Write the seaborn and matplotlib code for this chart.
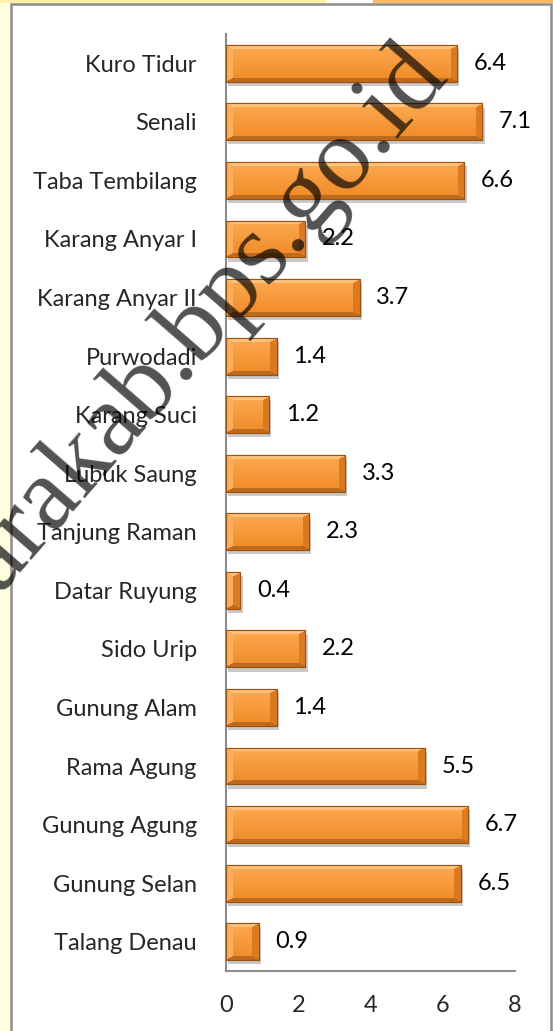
import numpy as np
import pandas as pd
import matplotlib
matplotlib.use("Agg")
import matplotlib.pyplot as plt
import matplotlib.patheffects as pe
from matplotlib.patches import Rectangle
import seaborn as sns

# data
desa = ['Kuro Tidur', 'Senali', 'Taba Tembilang', 'Karang Anyar I', 'Karang Anyar II',
        'Purwodadi', 'Karang Suci', 'Lubuk Saung', 'Tanjung Raman', 'Datar Ruyung',
        'Sido Urip', 'Gunung Alam', 'Rama Agung', 'Gunung Agung', 'Gunung Selan',
        'Talang Denau']
nilai = [6.4, 7.1, 6.6, 2.2, 3.7, 1.4, 1.2, 3.3, 2.3, 0.4, 2.2, 1.4, 5.5, 6.7, 6.5, 0.9]
x_ticks = [0, 2, 4, 6, 8]

df = pd.DataFrame({'desa': desa, 'nilai': nilai})

sns.set_theme(style='white')
plt.rcParams['font.family'] = ['Lato', 'DejaVu Sans']

W, H = 553, 1031
fig = plt.figure(figsize=(W / 100, H / 100), dpi=100, facecolor='white')

# background strips + panel border (behind the axes)
fig.patches.append(Rectangle((0, 0), 10 / W, 1, transform=fig.transFigure,
                             facecolor='#FFFFE0', edgecolor='none', zorder=-2))
fig.patches.append(Rectangle((0, 1 - 3 / H), 327 / W, 3 / H, transform=fig.transFigure,
                             facecolor='#FFF2A8', edgecolor='none', zorder=-2))
fig.patches.append(Rectangle((373 / W, 1 - 3 / H), 180 / W, 3 / H, transform=fig.transFigure,
                             facecolor='#FFB766', edgecolor='none', zorder=-2))
fig.patches.append(Rectangle((11 / W, -0.01), 540 / W, 1.01 - 4 / H, transform=fig.transFigure,
                             facecolor='white', edgecolor='#8C8C8C', linewidth=1.8, zorder=-1))

ax = fig.add_axes([226 / W, 1 - 971 / H, (515 - 226) / W, (971 - 34) / H])
ax.set_facecolor('none')
ax.set_zorder(1)

sns.barplot(data=df, x='nilai', y='desa', orient='h', color='#F7922E',
            width=0.63, saturation=1, ax=ax, zorder=2)

ax.set_xlim(0, 8)
ax.set_ylim(len(desa) - 0.5, -0.5)
ax.autoscale(False)
ax.set_xticks(x_ticks)
ax.set_xlabel('')
ax.set_ylabel('')
ax.tick_params(axis='x', length=0, pad=17, labelsize=17)
ax.tick_params(axis='y', length=0, pad=21, labelsize=17)
for s in ['top', 'right']:
    ax.spines[s].set_visible(False)
for s in ['left', 'bottom']:
    ax.spines[s].set_color('#8C8C8C')
    ax.spines[s].set_linewidth(1.5)

fig.canvas.draw()


def hexrgb(h):
    return np.array([int(h[i:i + 2], 16) for i in (1, 3, 5)]) / 255.0


def bevel_image(wpx, hpx, btb=4, bside=7):
    yy, xx = np.mgrid[0:hpx, 0:wpx].astype(float)
    t = (yy / max(hpx - 1, 1))[..., None]
    c_top, c_bot = hexrgb('#FDAA52'), hexrgb('#F08A26')
    img = c_top * (1 - t) + c_bot * t
    # sides wider than top/bottom bands
    dt, db = yy / btb, (hpx - 1 - yy) / btb
    dl, dr = xx / bside, (wpx - 1 - xx) / bside
    dmin = np.minimum(np.minimum(dt, db), np.minimum(dl, dr))
    edge = dmin < 1
    top = edge & (dt == dmin)
    bot = edge & (db == dmin) & ~top
    left = edge & (dl == dmin) & ~top & ~bot
    right = edge & (dr == dmin) & ~top & ~bot & ~left
    img[top] = hexrgb('#FEC27E')
    img[bot] = hexrgb('#BE6A1E')
    img[left] = hexrgb('#FBB060')
    img[right] = hexrgb('#DB7A20')
    return np.clip(img, 0, 1)


bars = list(ax.patches)
sizes = [(max(int(round(p.get_window_extent().width)), 2),
          max(int(round(p.get_window_extent().height)), 2)) for p in bars]

for p, (wpx, hpx) in zip(bars, sizes):
    p.set_edgecolor('#9A520F')
    p.set_linewidth(0.8)
    p.set_path_effects([pe.SimplePatchShadow(offset=(1.5, -3), shadow_rgbFace='#7A7A7A',
                                             alpha=0.4), pe.Normal()])
    x0, y0 = p.get_x(), p.get_y()
    im = ax.imshow(bevel_image(wpx, hpx), extent=(x0, x0 + p.get_width(), y0 + p.get_height(), y0),
                   aspect='auto', interpolation='nearest', zorder=2.5)
    im.set_clip_path(p)
    ax.add_patch(Rectangle((x0, y0), p.get_width(), p.get_height(), fill=False,
                           edgecolor='#9A520F', linewidth=0.8, zorder=2.6))

ax.set_xlim(0, 8)
ax.set_ylim(len(desa) - 0.5, -0.5)

for c in ax.containers:
    ax.bar_label(c, labels=[f'{v:.1f}' for v in c.datavalues], padding=12, fontsize=17,
                 color='black')

# watermark
fig.text(450 / W, 1 - 77 / H, 'utarakab.bps.go.id', rotation=49, rotation_mode='anchor',
         ha='right', va='baseline', fontsize=75, family='Liberation Serif',
         color='black', alpha=0.68, zorder=10)

fig.savefig('out.png', dpi=100, facecolor='white')
